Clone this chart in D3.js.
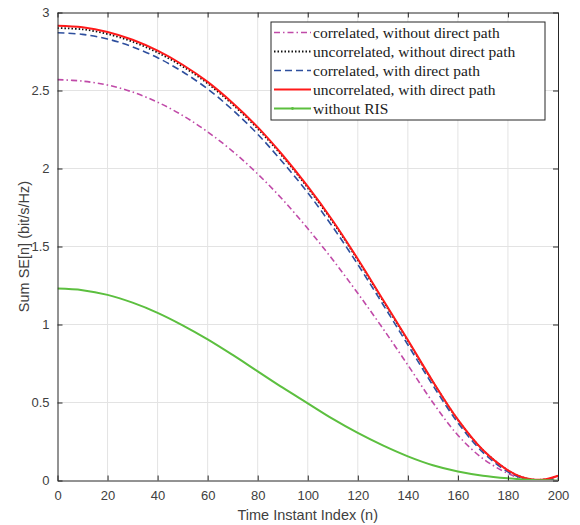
<!DOCTYPE html>
<html>
<head>
<meta charset="utf-8">
<script src="https://cdn.jsdelivr.net/npm/d3@7"></script>
<style>
  body { margin: 0; background: #fff; }
  svg { display: block; }
</style>
</head>
<body>
<div id="chart"></div>
<script>
// time instants (n)
const nVals = [0, 10, 20, 30, 40, 50, 60, 70, 80, 90, 100, 110, 120, 130, 140, 150, 160, 170, 180, 185, 190, 195, 200];

// one value per n
const corrNoDirect   = [2.57, 2.56, 2.535, 2.49, 2.425, 2.34, 2.235, 2.11, 1.965, 1.80, 1.615, 1.415, 1.20, 0.975, 0.74, 0.50, 0.29, 0.14, 0.045, 0.015, 0.003, 0.002, 0.008];
const uncorrNoDirect = [2.90, 2.892, 2.862, 2.813, 2.743, 2.654, 2.545, 2.41, 2.255, 2.076, 1.876, 1.657, 1.413, 1.154, 0.895, 0.632, 0.388, 0.195, 0.065, 0.025, 0.006, 0.008, 0.03];
const corrDirect     = [2.87, 2.86, 2.83, 2.78, 2.71, 2.62, 2.51, 2.375, 2.22, 2.04, 1.845, 1.625, 1.385, 1.13, 0.87, 0.61, 0.37, 0.18, 0.055, 0.02, 0.003, 0.004, 0.015];
const uncorrDirect   = [2.915, 2.905, 2.875, 2.825, 2.755, 2.665, 2.555, 2.42, 2.265, 2.085, 1.885, 1.665, 1.42, 1.16, 0.90, 0.635, 0.39, 0.195, 0.065, 0.025, 0.006, 0.008, 0.03];
const withoutRIS     = [1.23, 1.22, 1.19, 1.14, 1.075, 0.995, 0.905, 0.805, 0.70, 0.595, 0.495, 0.395, 0.305, 0.225, 0.155, 0.098, 0.058, 0.031, 0.014, 0.008, 0.004, 0.001, 0.0];

const xTicks = [0, 20, 40, 60, 80, 100, 120, 140, 160, 180, 200];
const yTicks = [0, 0.5, 1, 1.5, 2, 2.5, 3];

const seriesNames = ["correlated, without direct path", "uncorrelated, without direct path",
                     "correlated, with direct path", "uncorrelated, with direct path", "without RIS"];

const series = [
  {name: seriesNames[0], values: corrNoDirect,   color: "#c04aa8", width: 1.6, dash: "6,3,1.5,3"},
  {name: seriesNames[1], values: uncorrNoDirect, color: "#111111", width: 1.8, dash: "1.5,2"},
  {name: seriesNames[2], values: corrDirect,     color: "#2e4f9e", width: 1.6, dash: "7,4"},
  {name: seriesNames[3], values: uncorrDirect,   color: "#ff1a1a", width: 2,   dash: null},
  {name: seriesNames[4], values: withoutRIS,     color: "#5cbf3f", width: 2,   dash: null}
];

const W = 580, H = 525;
const margin = {top: 12.5, right: 22, bottom: 44.5, left: 57.5};
const width = W - margin.left - margin.right;
const height = H - margin.top - margin.bottom;

const svg = d3.select("#chart").append("svg")
    .attr("width", W)
    .attr("height", H);

const g = svg.append("g")
    .attr("transform", "translate(" + margin.left + "," + margin.top + ")");

const x = d3.scaleLinear().domain([0, 200]).range([0, width]);
const y = d3.scaleLinear().domain([0, 3]).range([height, 0]);

// grid
g.append("g").selectAll("line").data(xTicks.slice(1, -1)).enter().append("line")
    .attr("x1", d => x(d)).attr("x2", d => x(d))
    .attr("y1", 0).attr("y2", height)
    .attr("stroke", "#e3e3e3").attr("stroke-width", 1);
g.append("g").selectAll("line").data(yTicks.slice(1, -1)).enter().append("line")
    .attr("y1", d => y(d)).attr("y2", d => y(d))
    .attr("x1", 0).attr("x2", width)
    .attr("stroke", "#e3e3e3").attr("stroke-width", 1);

// curves
g.append("clipPath").attr("id", "clip")
    .append("rect").attr("y", -2).attr("width", width).attr("height", height + 1.5);

const line = d3.line()
    .x((d, i) => x(nVals[i]))
    .y(d => y(d))
    .curve(d3.curveCatmullRom.alpha(0.5));

g.append("g").attr("clip-path", "url(#clip)")
  .selectAll("path").data(series).enter().append("path")
    .attr("d", d => line(d.values))
    .attr("fill", "none")
    .attr("stroke", d => d.color)
    .attr("stroke-width", d => d.width)
    .attr("stroke-dasharray", d => d.dash);

// axes (matlab style: box, inward ticks)
const axisColor = "#262626";
const tickFont = "Liberation Sans, Arial, sans-serif";

let xAxis = g.append("g")
    .attr("transform", "translate(0," + height + ")")
    .call(d3.axisBottom(x).tickValues(xTicks).tickSizeInner(-5).tickSizeOuter(0).tickPadding(10));
let xTop = g.append("g")
    .call(d3.axisTop(x).tickValues(xTicks).tickSizeInner(-5).tickSizeOuter(0).tickFormat(""));
let yAxis = g.append("g")
    .call(d3.axisLeft(y).tickValues(yTicks).tickSizeInner(-5).tickSizeOuter(0).tickPadding(8).tickFormat(d3.format("")));
let yRight = g.append("g")
    .attr("transform", "translate(" + width + ",0)")
    .call(d3.axisRight(y).tickValues(yTicks).tickSizeInner(-5).tickSizeOuter(0).tickFormat(""));

[xAxis, xTop, yAxis, yRight].forEach(a => {
  a.select(".domain").attr("stroke", axisColor).attr("stroke-width", 1);
  a.selectAll(".tick line").attr("stroke", axisColor);
  a.selectAll(".tick text")
    .attr("fill", "#404040")
    .attr("font-family", tickFont)
    .attr("font-size", "13px");
});

// axis labels
svg.append("text")
    .attr("x", margin.left + width / 2)
    .attr("y", 520)
    .attr("text-anchor", "middle")
    .attr("font-family", tickFont)
    .attr("font-size", "14.5px")
    .attr("fill", "#404040")
    .text("Time Instant Index (n)");

svg.append("text")
    .attr("transform", "translate(29," + (margin.top + height / 2) + ") rotate(-90)")
    .attr("text-anchor", "middle")
    .attr("font-family", tickFont)
    .attr("font-size", "14.5px")
    .attr("fill", "#404040")
    .text("Sum SE[n] (bit/s/Hz)");

// legend
const legend = svg.append("g").attr("transform", "translate(271,22)");
legend.append("rect")
    .attr("width", 274).attr("height", 98)
    .attr("fill", "#fff")
    .attr("stroke", "#262626").attr("stroke-width", 1);

const rowY = [10.5, 29.5, 48.5, 67.5, 86.5];
const items = legend.selectAll("g.item").data(series).enter().append("g")
    .attr("class", "item")
    .attr("transform", (d, i) => "translate(0," + rowY[i] + ")");

items.append("line")
    .attr("x1", 3).attr("x2", 40)
    .attr("stroke", d => d.color)
    .attr("stroke-width", d => d.width)
    .attr("stroke-dasharray", d => d.dash);

items.filter((d, i) => i === 4).append("circle")
    .attr("cx", 21.5).attr("r", 1.4).attr("fill", d => d.color);

items.append("text")
    .attr("x", 42)
    .attr("dy", "0.35em")
    .attr("font-family", "Liberation Serif, DejaVu Serif, serif")
    .attr("font-size", "15.5px")
    .attr("fill", "#1a1a1a")
    .text(d => d.name);
</script>
</body>
</html>
